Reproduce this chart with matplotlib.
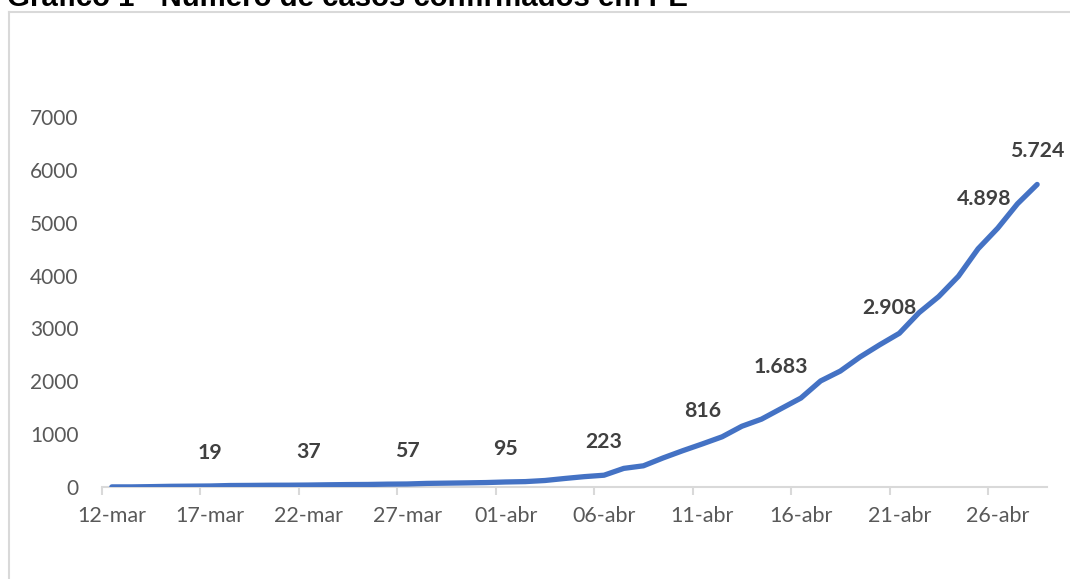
import matplotlib
matplotlib.use("Agg")
import matplotlib.pyplot as plt
from matplotlib.lines import Line2D

# ---- data ----
dates = (["12-mar", "13-mar", "14-mar", "15-mar", "16-mar", "17-mar", "18-mar", "19-mar",
          "20-mar", "21-mar", "22-mar", "23-mar", "24-mar", "25-mar", "26-mar", "27-mar",
          "28-mar", "29-mar", "30-mar", "31-mar"] +
         ["%02d-abr" % d for d in range(1, 29)])
cases = [2, 2, 7, 13, 16, 19, 28, 30, 33, 34, 37, 42, 46, 48, 54, 57, 68, 73, 78, 84,
         95, 102, 123, 161, 196, 223, 352, 401, 550, 687, 816, 950, 1149, 1284, 1484,
         1683, 2006, 2193, 2459, 2690, 2908, 3298, 3603, 3987, 4507, 4898, 5358, 5724]
labelled_idx = [5, 10, 15, 20, 25, 30, 35, 40, 45, 47]
tick_idx = list(range(0, 48, 5))
y_ticks = [0, 1000, 2000, 3000, 4000, 5000, 6000, 7000]
title = "Gráfico 1 - Número de casos confirmados em PE"

# ---- layout/style ----
label_offsets_px = {35: (-20, 31), 40: (-10, 25), 45: (-14, 29)}
W, H = 1070, 579
fig = plt.figure(figsize=(W / 100, H / 100), dpi=100)
ax = fig.add_axes([102 / W, 1 - 487 / H, (1047 - 102) / W, (487 - 117) / H])

x = list(range(len(cases)))
ax.plot(x, cases, color="#4472C4", lw=3.8, solid_capstyle="round",
        solid_joinstyle="round", zorder=3)

ax.set_xlim(-0.5, len(cases) - 0.5)
ax.set_ylim(0, 7000)

for i in labelled_idx:
    dx, dy = label_offsets_px.get(i, (0, 33))
    txt = f"{cases[i]:,}".replace(",", ".")
    ax.annotate(txt, (i, cases[i]), xytext=(dx, dy), textcoords="offset pixels",
                ha="center", va="center", fontsize=15.3, fontweight="bold",
                color="#404040", family="Lato", zorder=4)

# y axis
ax.set_yticks(y_ticks)
ax.set_yticklabels([str(v) for v in y_ticks], family="Lato", fontsize=15, color="#595959")
ax.tick_params(axis="y", length=0, pad=17)

# x axis: labels at day centers, tick marks at slot boundaries
ax.set_xticks(tick_idx)
ax.set_xticklabels([dates[i] for i in tick_idx], family="Lato", fontsize=15.5, color="#595959")
ax.set_xticks([i - 0.5 for i in tick_idx], minor=True)
ax.tick_params(axis="x", which="major", length=0, pad=14)
ax.tick_params(axis="x", which="minor", length=6, width=1.5, color="#D9D9D9")

for s in ["top", "right", "left"]:
    ax.spines[s].set_visible(False)
ax.spines["bottom"].set_color("#D9D9D9")
ax.spines["bottom"].set_linewidth(1.5)

# chart frame (partially visible)
fx = 8.5 / W
fy = 1 - 12 / H
fig.add_artist(Line2D([fx, fx], [0, fy], transform=fig.transFigure, color="#D9D9D9", lw=1.5))
fig.add_artist(Line2D([fx, 1], [fy, fy], transform=fig.transFigure, color="#D9D9D9", lw=1.5))

# title (cut at top, as in the reference)
fig.text(7 / W, 1 - 6 / H, title, ha="left", va="baseline", fontsize=21.2,
         fontweight="bold", family="Liberation Sans", color="black")

fig.savefig("out.png", dpi=100)
